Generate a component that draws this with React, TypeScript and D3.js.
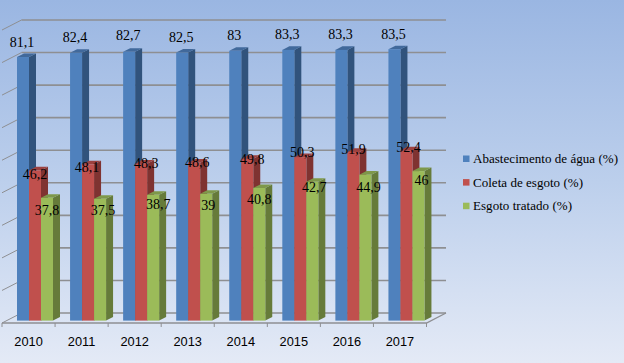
import React from "react";
import * as d3 from "d3";

const years = ["2010", "2011", "2012", "2013", "2014", "2015", "2016", "2017"];
const agua = [81.1, 82.4, 82.7, 82.5, 83, 83.3, 83.3, 83.5];
const coleta = [46.2, 48.1, 48.3, 48.6, 49.8, 50.3, 51.9, 52.4];
const tratado = [37.8, 37.5, 38.7, 39, 40.8, 42.7, 44.9, 46];
const seriesNames = ["Abastecimento de água (%)", "Coleta de esgoto (%)", "Esgoto tratado (%)"];
const ticks = d3.range(0, 100, 10);
const fills = ["#4f81bd", "#c0504d", "#9bbb59"];
const sides = ["#31537c", "#7f3331", "#667b3a"];
const tops = ["#41699b", "#9c4240", "#7e984a"];
const legendWidths = [145, 110, 99];

// hand-placed data label nudges of the original, relative to each bar's centre and top
const labelNudgeX = [
  [-1, -1, -1, -1, -1, -1, -1, -1],
  [0, -1, 5, 3, 5, 2, 0, 2],
  [0, 3, 5, 2, 0, 2, 3, 3],
];
const labelNudgeY = [
  [-10, -11, -12, -10.5, -11, -11, -11, -10],
  [8.6, 7.7, 4.4, 4.4, 5.3, 0, 2, 1.7],
  [17.3, 16.3, 14.2, 16.1, 16, 10.2, 17.3, 13.9],
];

const W = 624, H = 363;
const DX = 7, DY = 3.6;
const WALL_DX = 19.5, WALL_DY = 10;

export default function App() {
  const x = d3.scaleBand<string>().domain(years).range([2, 426.5]);
  const inner = d3.scaleBand<number>().domain([0, 1, 2]).range([15, 51]);
  const y = d3.scaleLinear().domain([0, 90]).range([320.6, 28.1]);
  const wallY = d3.scaleLinear().domain([0, 90]).range([313, 20]);
  const series = [agua, coleta, tratado];
  const fmt = (v: number) => String(v).replace(".", ",");
  const line = d3.line();
  const grid = "#8e8f92";
  return (
    <svg width={W} height={H} style={{ position: "fixed", left: 0, top: 0 }}>
      <defs>
        <linearGradient id="bg" x1="0" y1="0" x2="0" y2="1">
          <stop offset="0" stopColor="#9ab6e2" />
          <stop offset="0.5" stopColor="#bccfec" />
          <stop offset="1" stopColor="#e4eaf6" />
        </linearGradient>
      </defs>
      <rect width={W} height={H} fill="url(#bg)" />
      {ticks.map((t) => (
        <g key={t} stroke={grid} fill="none">
          <path d={line([[x.range()[0] + WALL_DX, wallY(t)], [x.range()[1] + WALL_DX, wallY(t)]])!} strokeWidth={1.6} />
          <path d={line([[x.range()[0], wallY(t) + WALL_DY], [x.range()[0] + WALL_DX, wallY(t)]])!} strokeWidth={1} />
        </g>
      ))}
      <path d={line([[2, 323], [426.5, 323], [426.5 + WALL_DX, 313]])!} stroke={grid} strokeWidth={1.4} fill="none" />
      {d3.range(0, 9).map((i) => {
        const tx = 2 + (i * 424.5) / 8;
        return <line key={i} x1={tx} x2={tx} y1={323} y2={327} stroke={grid} strokeWidth={1} />;
      })}
      {years.map((yr, i) => (
        <g key={yr}>
          {[0, 1, 2].map((s) => {
            const x0 = x(yr)! + inner(s)!;
            const w = inner.bandwidth();
            const top = y(series[s][i]);
            const base = y(0);
            return (
              <g key={s}>
                <path
                  d={line([[x0 + w, top], [x0 + w + DX, top - DY], [x0 + w + DX, base - DY], [x0 + w, base]])! + "Z"}
                  fill={sides[s]}
                />
                <path
                  d={line([[x0, top], [x0 + DX, top - DY], [x0 + w + DX, top - DY], [x0 + w, top]])! + "Z"}
                  fill={tops[s]}
                />
                <rect x={x0} y={top} width={w} height={base - top} fill={fills[s]} />
              </g>
            );
          })}
        </g>
      ))}
      {years.map((yr, i) =>
        series.map((vals, s) => (
          <text
            key={s}
            x={x(yr)! + inner(s)! + inner.bandwidth() / 2 + labelNudgeX[s][i]}
            y={y(vals[i]) + labelNudgeY[s][i]}
            textAnchor="middle"
            fontFamily="'Liberation Serif', serif"
            fontSize={14}
            fill="#000"
          >
            {fmt(vals[i])}
          </text>
        ))
      )}
      {years.map((yr) => (
        <text key={yr} x={x(yr)! + x.bandwidth() / 2} y={345.7} textAnchor="middle" fontFamily="'Liberation Sans', sans-serif" fontSize={12.8} fill="#000">
          {yr}
        </text>
      ))}
      {seriesNames.map((n, s) => (
        <g key={n}>
          <rect x={463} y={155.5 + s * 23.6} width={6.5} height={6.5} fill={fills[s]} />
          <text x={473} y={163.3 + s * 23.4} fontFamily="'Liberation Serif', serif" fontSize={13} fill="#000" textLength={legendWidths[s]} lengthAdjust="spacing">
            {n}
          </text>
        </g>
      ))}
    </svg>
  );
}
